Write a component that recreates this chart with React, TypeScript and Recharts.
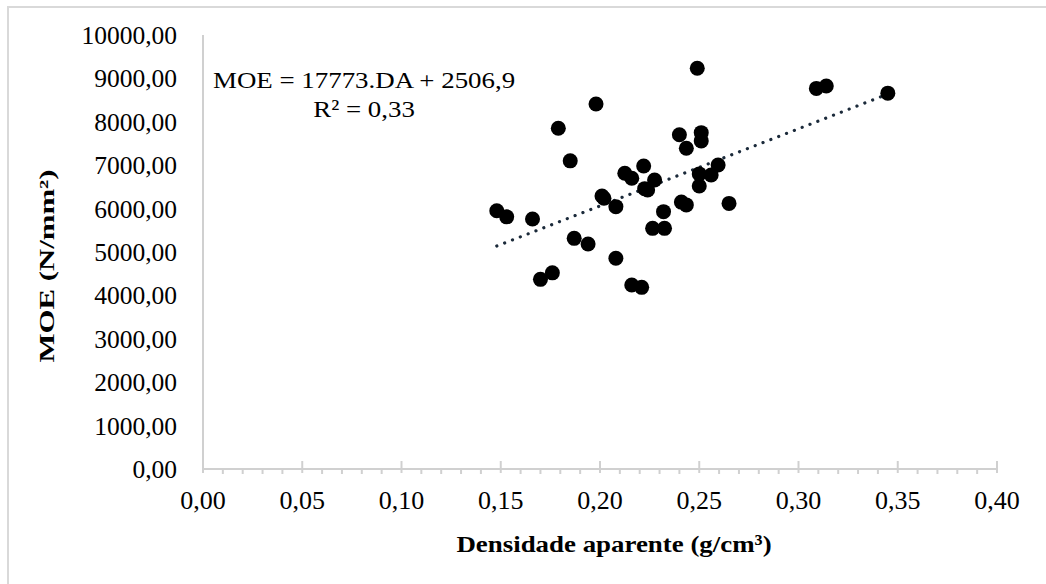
import React from "react";
import { Scatter, XAxis, YAxis, Line, ComposedChart } from "recharts";

// densidade aparente (g/cm³) x MOE (N/mm²)
const densidade = [
  0.148, 0.153, 0.166, 0.170, 0.176, 0.179, 0.185, 0.187, 0.194, 0.198,
  0.201, 0.202, 0.208, 0.208, 0.2125, 0.216, 0.216, 0.221, 0.222, 0.2225,
  0.224, 0.2265, 0.2275, 0.232, 0.2325, 0.240, 0.241, 0.2435, 0.2435, 0.249,
  0.250, 0.250, 0.251, 0.251, 0.256, 0.2595, 0.265, 0.309, 0.314, 0.345,
];
const moe = [
  5950, 5810, 5760, 4370, 4520, 7850, 7100, 5315, 5185, 8410,
  6290, 6240, 6045, 4855, 6815, 6700, 4240, 4185, 6980, 6460,
  6430, 5545, 6660, 5930, 5545, 7700, 6150, 6085, 7390, 9235,
  6800, 6520, 7750, 7560, 6775, 7005, 6120, 8770, 8825, 8660,
];

// regressão: MOE = 17773.DA + 2506,9
const coefA = 17773;
const coefB = 2506.9;

const yTicks = [0, 1000, 2000, 3000, 4000, 5000, 6000, 7000, 8000, 9000, 10000];
const minorTicks = Array.from({ length: 41 }, (_, i) => i / 100);

const pontos = densidade.map((d, i) => ({ x: d, y: moe[i] }));
const xMin = Math.min(...densidade);
const xMax = Math.max(...densidade);
const tendencia = [xMin, xMax].map((x) => ({ x, y: coefA * x + coefB }));

const fonte = '"Liberation Serif", "Times New Roman", serif';
const cinza = "#d0d0d0";

const fmt = (v: number) => v.toFixed(2).replace(".", ",");

function XTick(props: any) {
  const { x, y, payload } = props;
  const v = payload.value as number;
  const major = Math.round(v * 100) % 5 === 0;
  return (
    <g>
      {major ? (
        <line x1={x} x2={x} y1={y - 8} y2={y + 4} stroke={cinza} strokeWidth={2} />
      ) : (
        <line x1={x} x2={x} y1={y} y2={y + 5} stroke={cinza} strokeWidth={2} />
      )}
      {major && (
        <text x={x} y={y + 40} textAnchor="middle" fill="#000" fontSize={26} fontFamily={fonte}>
          {fmt(v)}
        </text>
      )}
    </g>
  );
}

export default function App() {
  return (
    <div style={{ position: "absolute", left: 0, top: 0, width: 1046, height: 584, background: "#fff", fontFamily: fonte, overflow: "hidden" }}>
      <div style={{ position: "absolute", left: 7, top: 6, width: 1100, height: 700, borderLeft: `2px solid #d9d9d9`, borderTop: `2px solid #d9d9d9` }} />
      <ComposedChart
        width={1046}
        height={584}
        margin={{ top: 35, right: 49, left: 0, bottom: 0 }}
        style={{ position: "absolute", left: 0, top: 0 }}
      >
        <XAxis
          type="number"
          dataKey="x"
          domain={[0, 0.4]}
          ticks={minorTicks}
          interval={0}
          height={115}
          tickLine={false}
          tickSize={0}
          tickMargin={0}
          axisLine={{ stroke: cinza, strokeWidth: 2 }}
          tick={<XTick />}
          allowDataOverflow
        />
        <YAxis
          type="number"
          dataKey="y"
          domain={[0, 10000]}
          ticks={yTicks}
          interval={0}
          width={203}
          tickLine={false}
          tickSize={0}
          tickMargin={26}
          axisLine={{ stroke: cinza, strokeWidth: 2 }}
          tickFormatter={fmt}
          tick={{ fill: "#000", fontSize: 25.5, fontFamily: fonte }}
        />
        <Scatter
          data={pontos}
          fill="#000"
          isAnimationActive={false}
          shape={(p: any) => <circle cx={p.cx} cy={p.cy} r={7.5} fill="#000" />}
        />
        <Line
          data={tendencia}
          dataKey="y"
          type="linear"
          stroke="#1b2a3a"
          strokeWidth={3.2}
          strokeDasharray="0.1 8.3"
          strokeLinecap="round"
          dot={false}
          activeDot={false}
          isAnimationActive={false}
        />
      </ComposedChart>
      <div
        style={{
          position: "absolute",
          left: 213,
          top: 66,
          fontSize: 24,
          lineHeight: "29px",
          whiteSpace: "nowrap",
          textAlign: "center",
          transform: "scaleX(1.12)",
          transformOrigin: "0 0",
        }}
      >
        MOE = 17773.DA + 2506,9
        <br />
        R² = 0,33
      </div>
      <div
        style={{
          position: "absolute",
          left: 614,
          top: 544,
          transform: "translate(-50%, -50%) scaleX(1.12)",
          fontSize: 24,
          fontWeight: "bold",
          whiteSpace: "nowrap",
        }}
      >
        Densidade aparente (g/cm³)
      </div>
      <div
        style={{
          position: "absolute",
          left: 47,
          top: 266,
          transform: "translate(-50%, -50%) rotate(-90deg) scaleX(1.4)",
          fontSize: 22,
          fontWeight: "bold",
          whiteSpace: "nowrap",
        }}
      >
        MOE (N/mm²)
      </div>
    </div>
  );
}
